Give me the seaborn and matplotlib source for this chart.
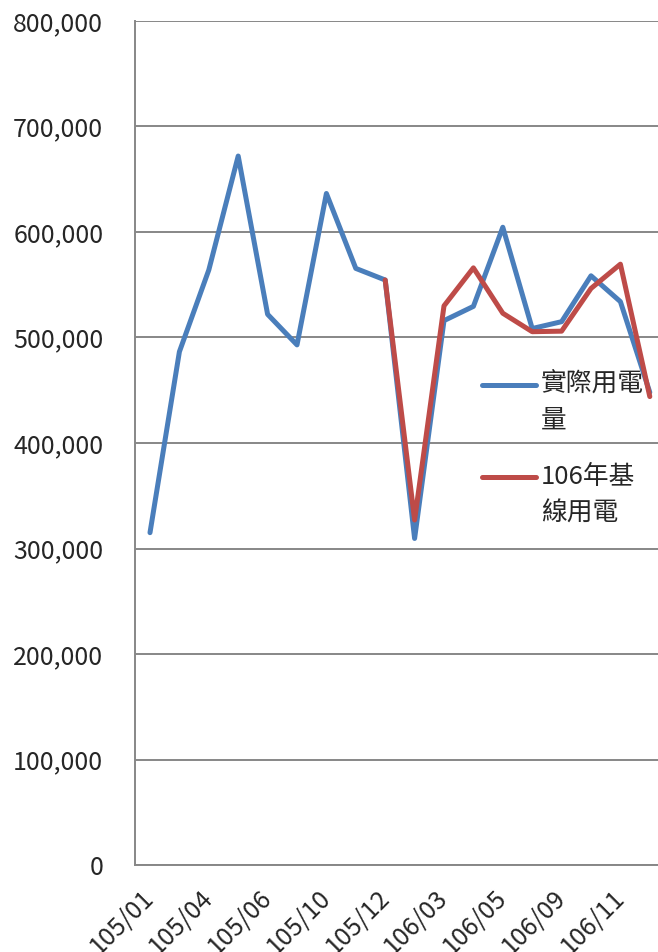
import matplotlib
matplotlib.use("Agg")
import matplotlib.pyplot as plt
import seaborn as sns
import numpy as np
import pandas as pd
from matplotlib.legend_handler import HandlerLine2D
from matplotlib.ticker import FuncFormatter, MultipleLocator, FixedLocator

# ---------------- data ----------------
categories = ["105/01", "105/03", "105/04", "105/05", "105/06", "105/08",
              "105/10", "105/11", "105/12", "106/01", "106/03", "106/04",
              "106/05", "106/07", "106/09", "106/10", "106/11", "106/12"]
actual = [315000, 486500, 564000, 672000, 522000, 493000, 636500, 565500,
          554500, 309500, 516000, 529500, 604500, 508500, 515000, 558500,
          534000, 448000]
baseline_cats = categories[8:]
baseline = [554500, 327000, 530000, 566000, 523000, 505500, 506000, 546500,
            569500, 444000]
shown_labels = ["105/01", "105/04", "105/06", "105/10", "105/12",
                "106/03", "106/05", "106/09", "106/11"]
series_names = ["實際用電\n量", "106年基\n線用電"]
colors = ["#4A7EBB", "#BE4B48"]

# ---------------- style ----------------
sns.set_style("white")
plt.rcParams["font.family"] = ["Noto Sans CJK TC", "DejaVu Sans"]
FS = 18
grid_c = "#878787"

fig = plt.figure(figsize=(6.58, 9.52), dpi=100)
ax = fig.add_axes([135.3 / 658, 87 / 952, 529.2 / 658, 844 / 952])

pos = {c: i for i, c in enumerate(categories)}
df_a = pd.DataFrame({"x": [pos[c] for c in categories], "y": actual})
df_b = pd.DataFrame({"x": [pos[c] for c in baseline_cats], "y": baseline})

lw = 3.6
sns.lineplot(data=df_a, x="x", y="y", ax=ax, color=colors[0], lw=lw,
             sort=False, solid_capstyle="round", solid_joinstyle="round",
             zorder=3)
sns.lineplot(data=df_b, x="x", y="y", ax=ax, color=colors[1], lw=lw,
             sort=False, solid_capstyle="round", solid_joinstyle="round",
             zorder=4)

# axes
ax.set_xlim(-0.5, len(categories) - 0.5)
ax.set_ylim(0, 800000)
ax.yaxis.set_major_locator(MultipleLocator(100000))
ax.yaxis.set_major_formatter(FuncFormatter(lambda v, p: f"{v:,.0f}"))
ax.grid(axis="y", color=grid_c, lw=1.4, zorder=0)
ax.grid(axis="x", visible=False)
ax.set_axisbelow(True)
for s in ["top", "right"]:
    ax.spines[s].set_visible(False)
for s in ["left", "bottom"]:
    ax.spines[s].set_color(grid_c)
    ax.spines[s].set_linewidth(1.4)

ax.xaxis.set_major_locator(FixedLocator([pos[c] for c in shown_labels]))
ax.set_xticklabels(shown_labels, rotation=45, ha="right", va="center",
                   rotation_mode="anchor", fontsize=FS)
ax.xaxis.set_minor_locator(FixedLocator(np.arange(-0.5, len(categories), 1)))
ax.tick_params(axis="x", which="major", length=0, pad=21)
ax.tick_params(axis="x", which="minor", length=5, width=1.4, color=grid_c,
               direction="out")
ax.tick_params(axis="y", which="major", length=5, width=1.4, color=grid_c,
               direction="out", pad=18, labelsize=FS)
ax.set_xlabel("")
ax.set_ylabel("")


class FirstLineHandler(HandlerLine2D):
    def __init__(self, shift, **kw):
        super().__init__(**kw)
        self.shift = shift

    def create_artists(self, legend, orig_handle, xdescent, ydescent,
                       width, height, fontsize, trans):
        return super().create_artists(legend, orig_handle, xdescent,
                                      ydescent, width, height + 2 * self.shift,
                                      fontsize, trans)


lines = ax.get_lines()
handles = [lines[0], lines[1]]
h = FirstLineHandler(13.5)
leg = ax.legend(handles, series_names, loc="upper left",
                bbox_to_anchor=(482 / 658, 1 - 371 / 952),
                bbox_transform=fig.transFigure, frameon=False,
                borderpad=0, borderaxespad=0, handlelength=2.1,
                handletextpad=0.2, labelspacing=1.15, fontsize=18.5,
                handler_map={lines[0]: h, lines[1]: h})
for t in leg.get_texts():
    t.set_linespacing(1.55)
for l in leg.get_lines():
    l.set_linewidth(lw)
    l.set_solid_capstyle("round")

fig.savefig("out.png", dpi=100)
